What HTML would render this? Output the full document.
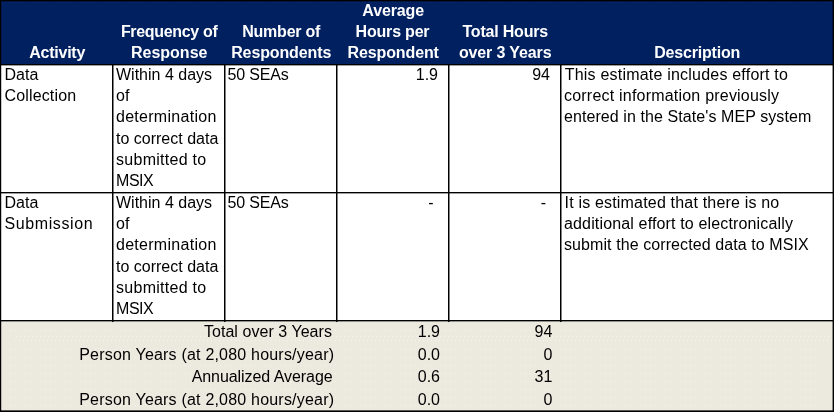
<!DOCTYPE html>
<html lang="en">
<head>
<meta charset="utf-8">
<title>Burden estimate table</title>
<style>
  html, body { margin: 0; padding: 0; }
  body {
    width: 834px; height: 412px; overflow: hidden; position: relative;
    background: #fff;
    font-family: "Liberation Sans", Arial, sans-serif;
    font-size: 16px; line-height: 21.2px; color: #000;
  }
  .abs { position: absolute; }
  .hdr { left: 0; top: 0; width: 834px; height: 64px; background: #002060; }
  .foot { left: 0; top: 321px; width: 834px; height: 91px; background: #ece9df; }
  /* rules: 1px black core + soft trailing pixel (target is slightly resampled) */
  .h { left: 0; width: 834px; height: 2px;
       background: linear-gradient(to bottom, #000 0, #000 1px, rgba(0,0,0,.38) 1px, rgba(0,0,0,.38) 2px); }
  .v { top: 64px; width: 2px; height: 258px;
       background: linear-gradient(to right, #000 0, #000 1px, rgba(0,0,0,.5) 1px, rgba(0,0,0,.5) 2px); }
  .ln { background: #000; }
  .th {
    color: #fff; font-weight: bold; text-align: center; white-space: nowrap;
    line-height: 21px; letter-spacing: -0.12px;
  }
  .td { white-space: nowrap; }
  .layer { position: absolute; left: 0; top: 0; width: 834px; height: 412px; will-change: transform; }
  .td span, .th span { display: inline-block; }
  .r { text-align: right; }
  .dots { left: 10px; width: 820px; height: 1px;
    background: repeating-linear-gradient(to right, rgba(255,255,255,.5) 0, rgba(255,255,255,.5) 1px, transparent 1px, transparent 5px); }
</style>
</head>
<body>
  <!-- fills -->
  <div class="abs hdr"></div>
  <div class="abs foot"></div>

  <!-- footer dotted texture -->
  <div class="abs dots" style="top:330px"></div>
  <div class="abs dots" style="top:336px;left:16px;width:814px;background:repeating-linear-gradient(to right, rgba(255,255,255,.5) 0, rgba(255,255,255,.5) 1px, transparent 1px, transparent 4px)"></div>
  <div class="abs dots" style="top:340px;left:15px;width:815px;background:repeating-linear-gradient(to right, rgba(255,255,255,.5) 0, rgba(255,255,255,.5) 1px, transparent 1px, transparent 4px)"></div>
  <div class="abs dots" style="top:349px"></div>
  <div class="abs dots" style="top:357px"></div>
  <div class="abs dots" style="top:365px"></div>
  <div class="abs dots" style="top:373px"></div>
  <div class="abs dots" style="top:381px"></div>
  <div class="abs dots" style="top:389px"></div>
  <div class="abs dots" style="top:397px"></div>
  <div class="abs dots" style="top:405px"></div>

  <!-- horizontal rules -->
  <div class="abs h" style="top:64px"></div>
  <div class="abs h" style="top:192px"></div>
  <div class="abs h" style="top:320px"></div>

  <!-- vertical rules (body rows only) -->
  <div class="abs v" style="left:112px"></div>
  <div class="abs v" style="left:224px"></div>
  <div class="abs v" style="left:336px"></div>
  <div class="abs v" style="left:448px"></div>
  <div class="abs v" style="left:560px"></div>

  <!-- outer frame -->
  <div class="abs ln" style="left:0;top:0;width:834px;height:1px"></div>
  <div class="abs ln" style="left:0;top:1px;width:834px;height:1px;opacity:.28"></div>
  <div class="abs" style="left:2px;top:2px;width:829px;height:1px;background:repeating-linear-gradient(to right, rgba(255,255,255,.045) 0, rgba(255,255,255,.045) 1px, transparent 1px, transparent 3px)"></div>
  <div class="abs ln" style="left:0;top:0;width:1px;height:412px"></div>
  <div class="abs ln" style="left:1px;top:0;width:1px;height:412px;opacity:.22"></div>
  <div class="abs ln" style="left:833px;top:0;width:1px;height:412px"></div>
  <div class="abs ln" style="left:832px;top:0;width:1px;height:412px;opacity:.42"></div>
  <div class="abs ln" style="left:0;top:411px;width:834px;height:1px"></div>
  <div class="abs ln" style="left:0;top:410px;width:834px;height:1px;opacity:.62"></div>

  <div class="layer">
  <!-- header text -->
  <div class="abs th" style="left:1.7px;top:42px;width:111px"><span style="letter-spacing:-.24px">Activity</span></div>
  <div class="abs th" style="left:113.7px;top:21px;width:111px"><span style="letter-spacing:-.32px">Frequency of</span><br><span style="letter-spacing:0">Response</span></div>
  <div class="abs th" style="left:225.7px;top:21px;width:111px"><span style="letter-spacing:-.24px">Number of</span><br><span>Respondents</span></div>
  <div class="abs th" style="left:337.7px;top:0;width:111px"><span>Average</span><br><span style="letter-spacing:-.2px;position:relative;left:-.7px">Hours per</span><br><span>Respondent</span></div>
  <div class="abs th" style="left:449.7px;top:21px;width:111px"><span style="letter-spacing:-.2px">Total Hours</span><br><span>over 3 Years</span></div>
  <div class="abs th" style="left:561.7px;top:42px;width:271px"><span style="letter-spacing:-.2px">Description</span></div>

  <!-- row 1 -->
  <div class="abs td" style="left:4.5px;top:64px"><span>Data</span><br><span style="letter-spacing:.15px">Collection</span></div>
  <div class="abs td" style="left:116px;top:64px"><span>Within 4 days</span><br><span>of</span><br><span style="letter-spacing:.28px">determination</span><br><span>to correct data</span><br><span style="letter-spacing:.28px">submitted to</span><br><span style="letter-spacing:-.45px">MSIX</span></div>
  <div class="abs td" style="left:227.5px;top:64px"><span style="letter-spacing:-.18px">50 SEAs</span></div>
  <div class="abs td r" style="left:337px;top:64px;width:101px">1.9</div>
  <div class="abs td r" style="left:449px;top:64px;width:101px">94</div>
  <div class="abs td" style="left:564px;top:64px"><span style="letter-spacing:.21px;margin-left:.7px">This estimate includes effort to</span><br><span style="letter-spacing:.21px">correct information previously</span><br><span style="letter-spacing:.08px">entered in the State's MEP system</span></div>

  <!-- row 2 -->
  <div class="abs td" style="left:4.5px;top:192px"><span>Data</span><br><span style="letter-spacing:.6px">Submission</span></div>
  <div class="abs td" style="left:116px;top:192px"><span>Within 4 days</span><br><span>of</span><br><span style="letter-spacing:.28px">determination</span><br><span>to correct data</span><br><span style="letter-spacing:.28px">submitted to</span><br><span style="letter-spacing:-.45px">MSIX</span></div>
  <div class="abs td" style="left:227.5px;top:192px"><span style="letter-spacing:-.18px">50 SEAs</span></div>
  <div class="abs td r" style="left:337px;top:192px;width:96.5px">-</div>
  <div class="abs td r" style="left:449px;top:192px;width:97px">-</div>
  <div class="abs td" style="left:564px;top:192px"><span style="letter-spacing:.185px;margin-left:.5px">It is estimated that there is no</span><br><span style="letter-spacing:.15px">additional effort to electronically</span><br><span style="letter-spacing:.085px">submit the corrected data to MSIX</span></div>

  <!-- footer -->
  <div class="abs td r" style="left:0;top:321px;width:332px"><span style="letter-spacing:.05px">Total over 3 Years</span></div>
  <div class="abs td r" style="left:337px;top:321px;width:103px">1.9</div>
  <div class="abs td r" style="left:449px;top:321px;width:103.4px">94</div>

  <div class="abs td r" style="left:0;top:344px;width:334.2px"><span style="letter-spacing:.2px">Person Years (at 2,080 hours/year)</span></div>
  <div class="abs td r" style="left:337px;top:344px;width:103px">0.0</div>
  <div class="abs td r" style="left:449px;top:344px;width:103.4px">0</div>

  <div class="abs td r" style="left:0;top:366px;width:332.6px"><span style="letter-spacing:-.06px">Annualized Average</span></div>
  <div class="abs td r" style="left:337px;top:366px;width:103px">0.6</div>
  <div class="abs td r" style="left:449px;top:366px;width:103.4px">31</div>

  <div class="abs td r" style="left:0;top:389px;width:334.2px"><span style="letter-spacing:.2px">Person Years (at 2,080 hours/year)</span></div>
  <div class="abs td r" style="left:337px;top:389px;width:103px">0.0</div>
  <div class="abs td r" style="left:449px;top:389px;width:103.4px">0</div>
  </div>
</body>
</html>
